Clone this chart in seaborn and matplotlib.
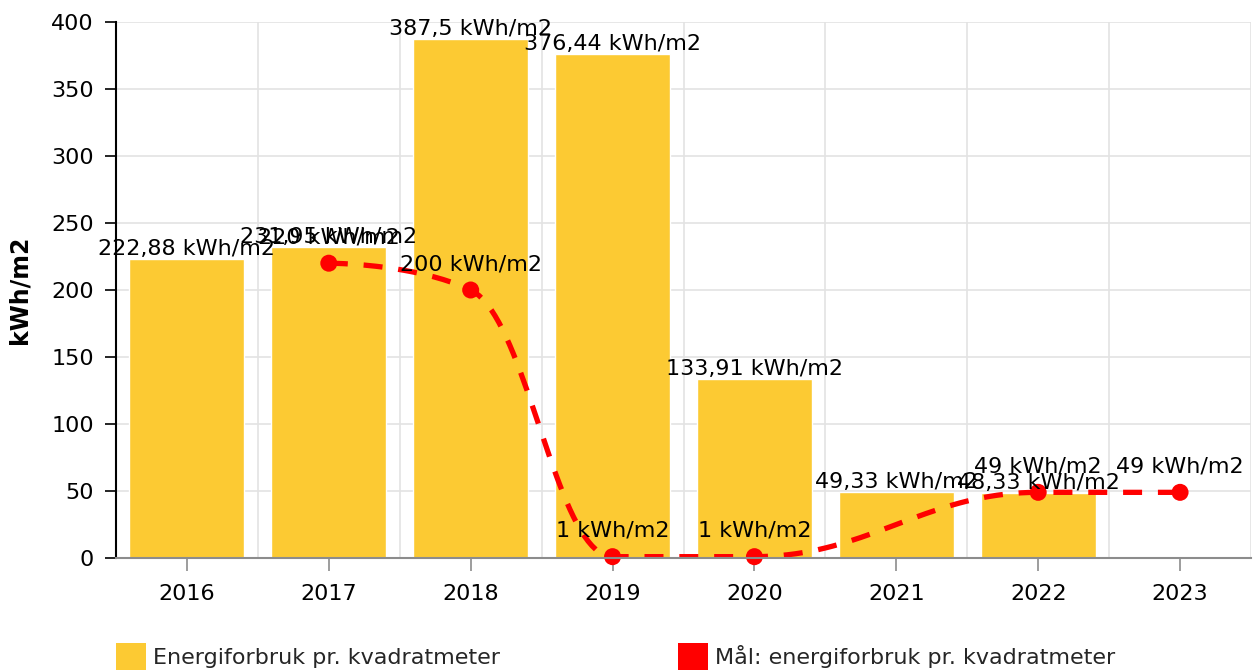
import numpy as np
import pandas as pd
import matplotlib
matplotlib.use("Agg")
import matplotlib.pyplot as plt
from matplotlib.patches import Patch
import seaborn as sns

years = ["2016", "2017", "2018", "2019", "2020", "2021", "2022", "2023"]
usage = [222.88, 231.95, 387.5, 376.44, 133.91, 49.33, 48.33, np.nan]
target = [np.nan, 220, 200, 1, 1, np.nan, 49, 49]
yticks = [0, 50, 100, 150, 200, 250, 300, 350, 400]
unit = "kWh/m2"
bar_name = "Energiforbruk pr. kvadratmeter"
line_name = "Mål: energiforbruk pr. kvadratmeter"
ylabel = "kWh/m2"

BAR_C = "#fcca33"
RED = "#ff0000"


def fmt(v):
    return f"{v:g}".replace(".", ",") + " " + unit


def hc_spline(xs, ys, smoothing=1.5, n=40):
    denom = smoothing + 1
    N = len(xs)
    lc = [None] * N
    rc = [None] * N
    for i in range(1, N - 1):
        lx, ly = xs[i - 1], ys[i - 1]
        px, py = xs[i], ys[i]
        nx, ny = xs[i + 1], ys[i + 1]
        lcx = (smoothing * px + lx) / denom
        lcy = (smoothing * py + ly) / denom
        rcx = (smoothing * px + nx) / denom
        rcy = (smoothing * py + ny) / denom
        corr = ((rcy - lcy) * (rcx - px)) / (rcx - lcx) + py - rcy
        lcy += corr
        rcy += corr
        if lcy > ly and lcy > py:
            lcy = max(ly, py)
            rcy = 2 * py - lcy
        elif lcy < ly and lcy < py:
            lcy = min(ly, py)
            rcy = 2 * py - lcy
        if rcy > ny and rcy > py:
            rcy = max(ny, py)
            lcy = 2 * py - rcy
        elif rcy < ny and rcy < py:
            rcy = min(ny, py)
            lcy = 2 * py - rcy
        lc[i] = (lcx, lcy)
        rc[i] = (rcx, rcy)
    X, Y = [], []
    t = np.linspace(0, 1, n)
    for i in range(1, N):
        p0 = np.array([xs[i - 1], ys[i - 1]])
        p3 = np.array([xs[i], ys[i]])
        p1 = np.array(rc[i - 1]) if rc[i - 1] is not None else p0
        p2 = np.array(lc[i]) if lc[i] is not None else p3
        b = ((1 - t) ** 3)[:, None] * p0 + (3 * (1 - t) ** 2 * t)[:, None] * p1 \
            + (3 * (1 - t) * t ** 2)[:, None] * p2 + (t ** 3)[:, None] * p3
        if i > 1:
            b = b[1:]
        X.extend(b[:, 0])
        Y.extend(b[:, 1])
    return np.array(X), np.array(Y)


sns.set_theme(style="white")
plt.rcParams["font.family"] = ["DejaVu Sans"]

fig = plt.figure(figsize=(12.59, 6.70), dpi=100)
ax = fig.add_axes([116 / 1259, 1 - 558 / 670, (1251 - 116) / 1259, (558 - 22) / 670])

df = pd.DataFrame({"year": years, "usage": usage})
sns.barplot(data=df, x="year", y="usage", order=years, color=BAR_C, width=0.81,
            saturation=1, ax=ax, zorder=2, errorbar=None)

# target spline (nulls connected)
xi = [i for i, v in enumerate(target) if not np.isnan(v)]
yi = [target[i] for i in xi]
sx, sy = hc_spline(xi, yi)
ax.plot(sx, sy, color=RED, lw=3.8, dashes=(3.6, 3.0), zorder=4,
        dash_capstyle="butt")
tdf = pd.DataFrame({"x": xi, "y": yi})
sns.scatterplot(data=tdf, x="x", y="y", color=RED, s=150, edgecolor="none", ax=ax,
                zorder=5, clip_on=False)

ax.set_xlim(-0.5, 7.5)
ax.set_ylim(0, 400)
ax.set_yticks(yticks)
ax.set_xticks(range(len(years)))
ax.set_xticklabels(years)

# grid
for y in yticks:
    ax.axhline(y, color="#e3e3e3", lw=1.2, zorder=1)
for xg in np.arange(0.5, 7.6, 1.0):
    ax.axvline(xg, color="#e3e3e3", lw=1.2, zorder=1)

for s in ["top", "right"]:
    ax.spines[s].set_visible(False)
ax.spines["left"].set_color("black")
ax.spines["left"].set_linewidth(1.5)
ax.spines["bottom"].set_color("#8c8c8c")
ax.spines["bottom"].set_linewidth(1.5)
ax.spines["bottom"].set_zorder(6)

ax.tick_params(axis="y", which="major", left=True, length=8, width=1.2, color="black",
               labelsize=16, pad=8, labelcolor="black")
ax.tick_params(axis="x", which="major", bottom=True, length=9, width=1.2, color="#8c8c8c",
               labelsize=16, pad=10, labelcolor="black")

ax.set_xlabel("")
ax.set_ylabel(ylabel, fontsize=17, fontweight="bold", labelpad=14, color="black")

# labels
for i, v in enumerate(usage):
    if not np.isnan(v):
        ax.annotate(fmt(v), (i, v), xytext=(0, 2.8), textcoords="offset points",
                    ha="center", va="baseline", fontsize=16, color="black", zorder=7,
                    annotation_clip=False)
for i, v in zip(xi, yi):
    ax.annotate(fmt(v), (i, v), xytext=(0, 14.4), textcoords="offset points",
                ha="center", va="baseline", fontsize=16, color="black", zorder=8,
                annotation_clip=False)

handles = [Patch(facecolor=BAR_C, edgecolor="none", label=bar_name),
           Patch(facecolor=RED, edgecolor="none", label=line_name)]
fig.legend(handles=handles, loc="lower left", bbox_to_anchor=(116 / 1259, 0.0),
           ncol=2, frameon=False, fontsize=16, handlelength=1.35, handleheight=1.5,
           handletextpad=0.32, columnspacing=8.0, borderpad=0, borderaxespad=0)

fig.savefig("out.png", dpi=100)
